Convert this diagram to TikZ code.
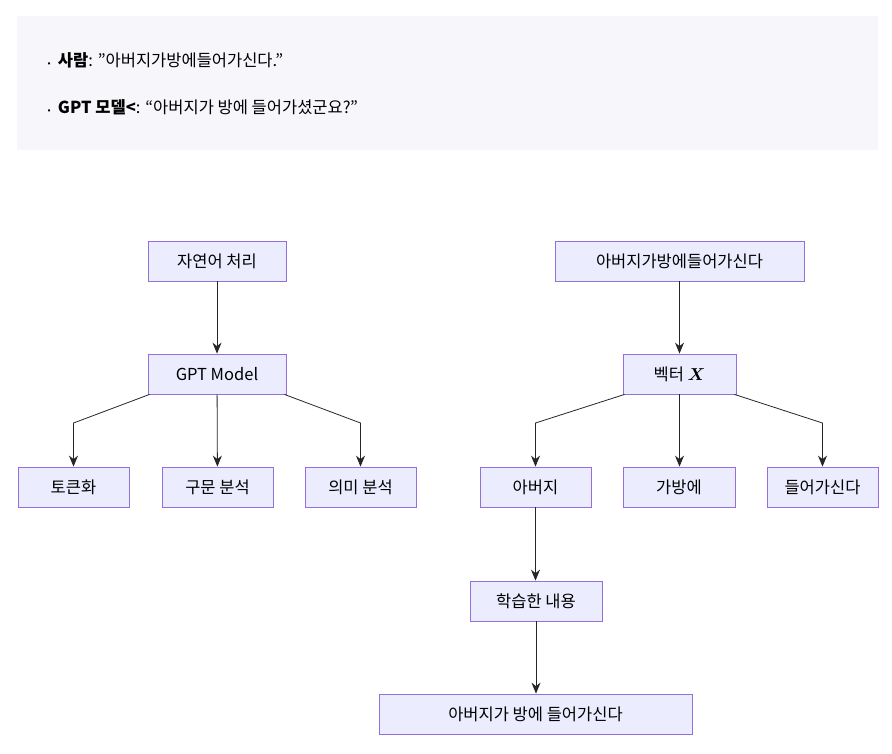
\documentclass[tikz,border=0pt]{standalone}
\usepackage{amsmath}
\usepackage{fontspec}
\setmainfont{Noto Sans CJK KR}
\usetikzlibrary{arrows.meta}
\definecolor{boxfill}{HTML}{ECECFF}
\definecolor{boxline}{HTML}{9370DB}
\definecolor{panel}{HTML}{F6F6FB}
\newcommand{\sq}{\char34\relax}
\begin{document}
\begin{tikzpicture}[x=1pt,y=-1pt,font=\fontsize{16.5}{20}\selectfont]
	\tikzstyle{box} = [draw=boxline, fill=boxfill, line width=0.8pt, minimum height=40pt, inner sep=0pt]
	\tikzstyle{line} = [draw, line width=0.8pt, color=black!85, -{Stealth[length=11pt,width=9pt]}]
	\useasboundingbox (0,0) rectangle (892,753);
	\fill[panel] (17,16) rectangle (878,150);
	\node[anchor=west] (said) at (44,60) {{\small•}\ \ \textbf{사람}: \sq 아버지가방에들어가신다.\sq};
	\node[anchor=west] (answer) at (44,107) {{\small•}\ \ \textbf{GPT 모델<}: “아버지가 방에 들어가셨군요?\sq};
	% left tree
	\node[box, minimum width=138pt] (nlp) at (217,261) {자연어 처리};
	\node[box, minimum width=138pt] (gpt) at (217,374) {GPT Model};
	\node[box, minimum width=111pt] (token) at (73.5,487) {토큰화};
	\node[box, minimum width=111pt] (syntax) at (217.5,487) {구문 분석};
	\node[box, minimum width=111pt] (meaning) at (360.5,487) {의미 분석};
	% right tree
	\node[box, minimum width=249pt] (sentence) at (679.5,261) {아버지가방에들어가신다};
	\node[box, minimum width=113pt] (vector) at (679.5,374) {벡터 $\boldsymbol{X}$};
	\node[box, minimum width=111pt] (father) at (535.5,487) {아버지};
	\node[box, minimum width=112pt] (room) at (679,487) {가방에};
	\node[box, minimum width=111pt] (enter) at (822.5,487) {들어가신다};
	\node[box, minimum width=132pt] (learned) at (536,601) {학습한 내용};
	\node[box, minimum width=313pt] (result) at (535.5,714) {아버지가 방에 들어가신다};
	\draw[line] (nlp) -- (gpt);
	\draw[line] ([xshift=2pt]gpt.south west) -- (token.north |- 0,423) -- (token);
	\draw[line] (gpt) -- (syntax);
	\draw[line] ([xshift=-2pt]gpt.south east) -- (meaning.north |- 0,423) -- (meaning);
	\draw[line] (sentence) -- (vector);
	\draw[line] ([xshift=2pt]vector.south west) -- (father.north |- 0,423) -- (father);
	\draw[line] (vector) -- (vector |- room.north);
	\draw[line] ([xshift=-2pt]vector.south east) -- (enter.north |- 0,423) -- (enter);
	\draw[line] (father) -- (father |- learned.north);
	\draw[line] (learned) -- (learned |- result.north);
\end{tikzpicture}
\end{document}
